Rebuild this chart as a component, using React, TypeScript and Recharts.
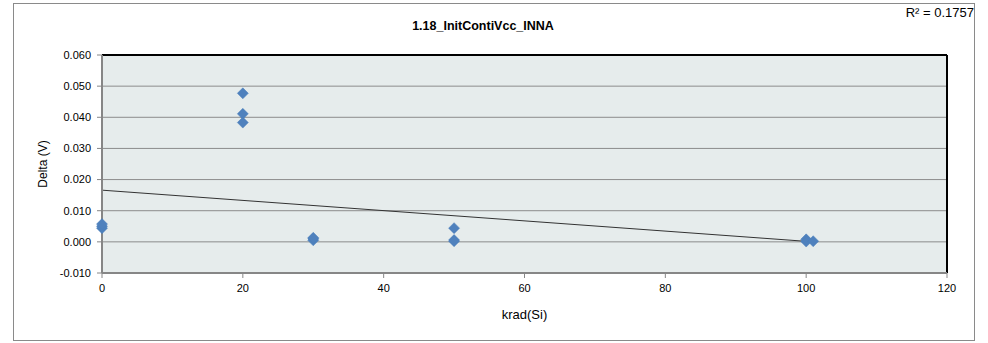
import React from "react";
import {
  CartesianGrid,
  ReferenceLine,
  Scatter,
  ScatterChart,
  XAxis,
  YAxis,
} from "recharts";

// dose steps (krad(Si)) and measured delta (V) per unit
const doseKrad = [0, 0, 0, 20, 20, 20, 30, 30, 30, 50, 50, 50, 100, 100, 101];
const deltaV = [
  0.0044, 0.005, 0.0057, 0.0477, 0.0411, 0.0383, 0.0005, 0.001, 0.0013,
  0.0044, 0.0006, 0.0002, 0.0008, 0.0001, 0.0002,
];

// linear trendline endpoints
const trendX = [0, 101];
const trendY = [0.0166, 0.0];

const xTicks = [0, 20, 40, 60, 80, 100, 120];
const yTicks = [-0.01, 0, 0.01, 0.02, 0.03, 0.04, 0.05, 0.06];

const chartTitle = "1.18_InitContiVcc_INNA";
const rSquared = "R² = 0.1757";

const FONT = "'Liberation Sans', Arial, sans-serif";

const points = doseKrad.map((x, i) => ({ x, y: deltaV[i] }));

function Diamond(props: any) {
  const { cx, cy } = props;
  if (cx == null || cy == null) return null;
  const r = 5.5;
  return (
    <path
      d={`M${cx},${cy - r}L${cx + r},${cy}L${cx},${cy + r}L${cx - r},${cy}Z`}
      fill="#4F81BD"
      stroke="#4A7EBB"
      strokeWidth={0.5}
    />
  );
}

export default function App() {
  return (
    <div
      style={{
        position: "absolute",
        left: 0,
        top: 0,
        width: 988,
        height: 343,
        background: "#fff",
        fontFamily: FONT,
      }}
    >
      <div
        style={{
          position: "absolute",
          left: 13,
          top: 3,
          width: 962,
          height: 338,
          border: "1px solid #8a8a8a",
          boxSizing: "border-box",
        }}
      />
      <div
        style={{
          position: "absolute",
          left: 0,
          width: 966,
          top: 19,
          textAlign: "center",
          fontSize: 12.5,
          fontWeight: "bold",
          color: "#000",
        }}
      >
        {chartTitle}
      </div>
      <div
        style={{
          position: "absolute",
          right: 14,
          top: 5,
          fontSize: 13,
          color: "#000",
        }}
      >
        {rSquared}
      </div>
      <div style={{ position: "absolute", left: 0, top: 0 }}>
        <ScatterChart
          width={988}
          height={343}
          margin={{ top: 55, right: 41, bottom: 20, left: 12 }}
        >
          <CartesianGrid
            vertical={false}
            stroke="#8c8c8c"
            fill="#E6ECEC"
            fillOpacity={1}
          />
          <XAxis
            type="number"
            dataKey="x"
            domain={[0, 120]}
            ticks={xTicks}
            height={50}
            tickSize={5}
            tickMargin={6}
            axisLine={{ stroke: "#868686", strokeWidth: 2 }}
            tickLine={{ stroke: "#868686" }}
            tick={{ fill: "#000", fontSize: 11, fontFamily: FONT }}
            label={{
              value: "krad(Si)",
              position: "insideBottom",
              offset: 4,
              style: { fill: "#000", fontSize: 13, fontFamily: FONT },
            }}
          />
          <YAxis
            type="number"
            dataKey="y"
            domain={[-0.01, 0.06]}
            ticks={yTicks}
            width={90}
            tickSize={5}
            tickMargin={6}
            tickFormatter={(v: number) => v.toFixed(3)}
            axisLine={{ stroke: "#868686", strokeWidth: 2 }}
            tickLine={{ stroke: "#868686" }}
            tick={{ fill: "#000", fontSize: 11, fontFamily: FONT }}
            label={{
              value: "Delta (V)",
              angle: -90,
              position: "insideLeft",
              offset: 31,
              style: {
                fill: "#000",
                fontSize: 12,
                fontFamily: FONT,
                textAnchor: "middle",
              },
            }}
          />
          <ReferenceLine y={0.06} stroke="#000" strokeWidth={2} />
          <ReferenceLine x={120} stroke="#000" strokeWidth={2} />
          <ReferenceLine
            segment={[
              { x: trendX[0], y: trendY[0] },
              { x: trendX[1], y: trendY[1] },
            ]}
            stroke="#333"
            strokeWidth={1}
          />
          <Scatter
            data={points}
            shape={Diamond}
            isAnimationActive={false}
          />
        </ScatterChart>
      </div>
    </div>
  );
}
